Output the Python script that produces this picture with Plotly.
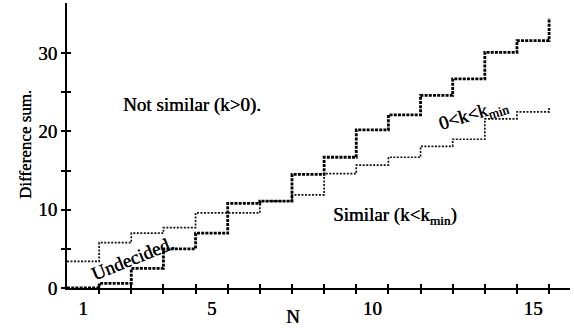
import plotly.graph_objects as go

# Data
N = list(range(1, 17))
boundary_k0 = [0, 0.6, 2.5, 5.0, 7.0, 10.8, 11.1, 14.5, 16.7, 20.2, 22.1, 24.6, 26.7, 30.1, 31.6, 34.5]
boundary_kmin = [3.4, 5.8, 7.0, 7.7, 9.6, 9.6, 11.1, 11.9, 14.6, 15.7, 16.7, 18.1, 19.0, 21.6, 22.5, 23.1]
x_label_vals = [1, 5, 10, 15]
x_step_ticks = [n + 0.5 for n in range(1, 16)]
y_tick_vals = [0, 5, 10, 15, 20, 25, 30]
y_tick_text = ["0", "", "10", "", "20", "", "30"]

X_RANGE = [0.5, 16.15]
Y_RANGE = [0, 36.4]
FONT = "Liberation Serif"

edges = [n - 0.5 for n in N]

fig = go.Figure()
fig.add_trace(go.Scatter(x=edges, y=boundary_kmin, mode="lines", line_shape="hv",
                         line=dict(color="#111", width=1.7, dash="2px,1.5px"),
                         showlegend=False, hoverinfo="skip"))
fig.add_trace(go.Scatter(x=edges, y=boundary_k0, mode="lines", line_shape="hv",
                         line=dict(color="black", width=2.8, dash="3px,1.2px"),
                         showlegend=False, hoverinfo="skip"))
# invisible traces to activate overlay axes (inside tick marks)
fig.add_trace(go.Scatter(x=[None], y=[None], xaxis="x2", yaxis="y", showlegend=False, hoverinfo="skip"))
fig.add_trace(go.Scatter(x=[None], y=[None], xaxis="x", yaxis="y2", showlegend=False, hoverinfo="skip"))

tickfont = dict(family=FONT, size=19, color="black", shadow="0.4px 0 0 black")

fig.update_layout(
    width=574, height=329,
    margin=dict(l=67, r=4, t=3, b=41, autoexpand=False),
    paper_bgcolor="white", plot_bgcolor="white",
    showlegend=False,
    xaxis=dict(range=X_RANGE, showgrid=False, zeroline=False, automargin=False,
               showline=True, linecolor="black", linewidth=2,
               tickmode="array", tickvals=x_label_vals,
               ticks="outside", ticklen=2, tickcolor="rgba(0,0,0,0)",
               tickfont=tickfont,
               minor=dict(tickmode="array", tickvals=x_step_ticks, ticks="outside",
                          ticklen=4, tickwidth=2, tickcolor="black", showgrid=False)),
    xaxis2=dict(range=X_RANGE, overlaying="x", anchor="y", side="bottom", automargin=False,
                showgrid=False, zeroline=False, showline=False,
                tickmode="array", tickvals=x_step_ticks, ticks="inside",
                ticklen=4, tickwidth=2, tickcolor="black", showticklabels=False),
    yaxis=dict(range=Y_RANGE, showgrid=False, zeroline=False, automargin=False,
               showline=True, linecolor="black", linewidth=2,
               tickmode="array", tickvals=y_tick_vals, ticktext=y_tick_text,
               ticks="outside", ticklen=4, tickwidth=2, tickcolor="black",
               tickfont=tickfont),
    yaxis2=dict(range=Y_RANGE, overlaying="y", anchor="x", side="left", automargin=False,
                showgrid=False, zeroline=False, showline=False,
                tickmode="array", tickvals=y_tick_vals, ticks="inside",
                ticklen=4, tickwidth=2, tickcolor="black", showticklabels=False),
)

annfont = dict(family=FONT, size=19, color="black", shadow="0.4px 0 0 black")
fig.add_annotation(x=4.39, y=23.4, text="Not similar (k&gt;0).", showarrow=False, font=annfont)
fig.add_annotation(x=10.71, y=9.2, text="Similar (k&lt;k<sub>min</sub>)", showarrow=False, font=annfont)
fig.add_annotation(x=2.53, y=3.8, text="Undecided.", showarrow=False, textangle=-22, font=annfont)
fig.add_annotation(x=13.14, y=22.1, text="0&lt;k&lt;k<sub>min</sub>", showarrow=False, textangle=-17, font=annfont)
fig.add_annotation(x=7.53, xref="x", y=-0.10, yref="paper", xanchor="center", yanchor="middle",
                   text="N", showarrow=False, font=dict(family=FONT, size=19, color="black", shadow="0.4px 0 0 black"))
fig.add_annotation(x=-0.0835, xref="paper", y=0.505, yref="paper", xanchor="center", yanchor="middle",
                   text="Difference sum.", showarrow=False, textangle=-90,
                   font=dict(family=FONT, size=17, color="black", shadow="0.4px 0 0 black"))

fig.write_html("out.html", config={"displayModeBar": False},
               post_script="document.body.style.margin='0';")
